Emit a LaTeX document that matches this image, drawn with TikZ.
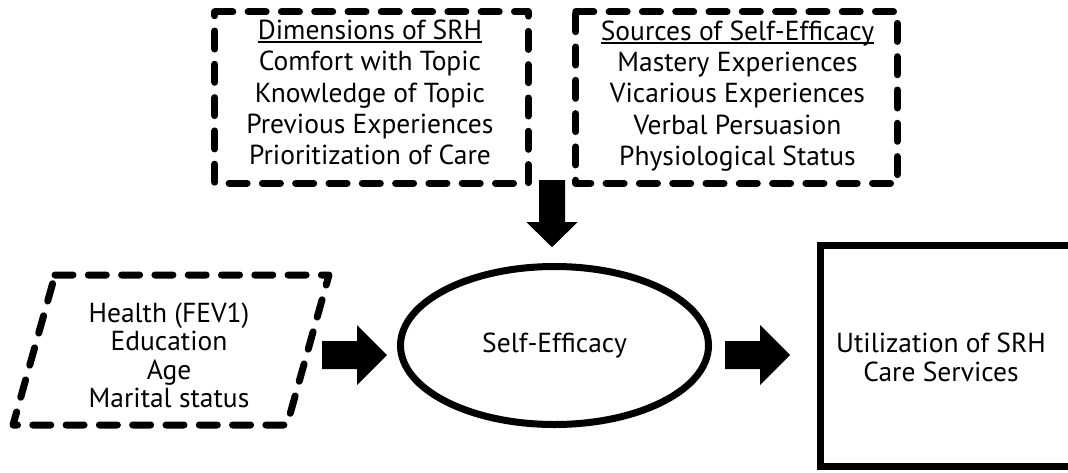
\documentclass[tikz,border=0pt]{standalone}
\usepackage{fontspec}
\setmainfont{PT Sans}
\usetikzlibrary{shapes.geometric,calc}
% heading with a rule just under its baseline
\newcommand\ulhead[1]{\setbox0\hbox{#1}\rlap{\rule[-4pt]{\wd0}{2pt}}\box0}

\begin{document}
\begin{tikzpicture}[x=1pt,y=-1pt,
  listtext/.style={align=center, inner sep=0pt, font=\fontsize{27.5}{31.3}\selectfont},
  bodytext/.style={align=center, inner sep=0pt, font=\fontsize{27.5}{28.5}\selectfont},
  listbox/.style={draw=none, inner sep=0pt, minimum height=171pt},
  dashline/.style={line width=7pt, line cap=round, line join=round, dash pattern=on 18pt off 15.3pt},
  solidshape/.style={draw=black, line width=7pt, inner sep=0pt},
  blockarrow/.style={fill=black, draw=none}
]
\useasboundingbox (0,0) rectangle (1068,472);
\fill[white] (0,0) rectangle (1068,472);
\clip (0,0) rectangle (1068,472);

% ---- top boxes: dimensions of SRH and sources of self-efficacy ----
\node[listbox, minimum width=313pt] (dims) at (371.5,97.5) {};
\node[listbox, minimum width=321pt] (srcs) at (736.5,97.5) {};
\foreach \b in {dims,srcs}{
  \draw[dashline] (\b.north west) -- (\b.north east) -- (\b.south east) -- (\b.south west) -- cycle;
}
\node[listtext] (dimstext) at (370,92.4) {\ulhead{Dimensions of SRH}\\Comfort with Topic\\Knowledge of Topic\\Previous Experiences\\Prioritization of Care};
\node[listtext] (srcstext) at (737.5,96.1) {\ulhead{Sources of Self-Efficacy}\\Mastery Experiences\\Vicarious Experiences\\Verbal Persuasion\\Physiological Status};

% ---- background factors (dashed parallelogram) ----
\draw[dashline] (55,275) -- (329,275) -- (287,425) -- (13,425) -- cycle;
\node[bodytext] (factors) at (169,355.5) {Health (FEV1)\\Education\\Age\\Marital status};

% ---- self-efficacy ----
\node[solidshape, ellipse, minimum width=308pt, minimum height=158pt,
      font=\fontsize{27.5}{28.5}\selectfont] (self) at (554.5,345.5) {Self-Efficacy};

% ---- outcome ----
\node[solidshape, minimum width=270pt, minimum height=221pt] (util) at (955,356) {};
\node[bodytext, font=\fontsize{27.5}{29}\selectfont] (utiltext) at (941,357.3) {Utilization of SRH\\Care Services};

% ---- block arrows ----
\coordinate (a1) at (322,355);
\coordinate (a2) at (725,355);
\coordinate (a3) at ($(dims.south east)!0.5!(srcs.south west)+(0,-3)$);
\fill[blockarrow] (a1) ++(0,-14) -- ++(35,0) -- ++(0,-16) -- ++(30,30) -- ++(-30,30) -- ++(0,-16) -- ++(-35,0) -- cycle;
\fill[blockarrow] (a2) ++(0,-14) -- ++(35,0) -- ++(0,-16) -- ++(30,30) -- ++(-30,30) -- ++(0,-16) -- ++(-35,0) -- cycle;
\fill[blockarrow] (a3) ++(-13,0) -- ++(0,42) -- ++(-12.5,0) -- ++(25.5,25) -- ++(25.5,-25) -- ++(-12.5,0) -- ++(0,-42) -- cycle;
\end{tikzpicture}
\end{document}
